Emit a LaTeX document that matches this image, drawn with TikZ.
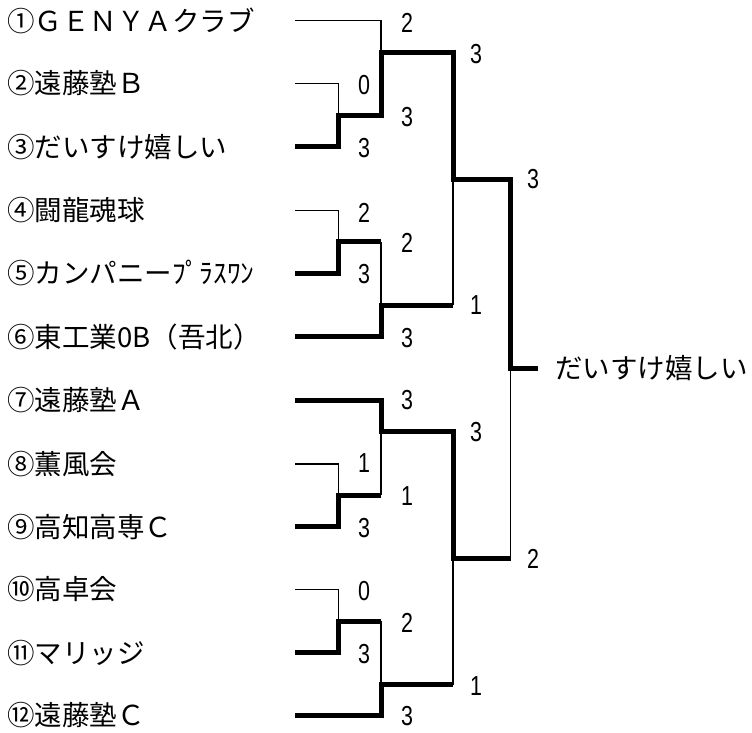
\documentclass[tikz,border=0pt]{standalone}
\usepackage{fontspec}
\setmainfont{Noto Sans CJK JP}
\newfontfamily\numfont[FakeStretch=0.78]{Liberation Sans}
\begin{document}
\begin{tikzpicture}[x=1pt,y=-1pt,
  thinln/.style={line width=1.3pt},
  thickln/.style={line width=5pt},
  team/.style={anchor=west,inner sep=0pt,font=\fontsize{27.5}{30}\selectfont},
  score/.style={anchor=west,inner sep=0pt,font=\numfont\fontsize{27.5}{30}\selectfont}]
\useasboundingbox (0,0) rectangle (752,733);
% team labels
\node[team] (n1) at (7,20.7) {①ＧＥＮＹＡクラブ};
\node[team] (n2) at (7,83.5) {②遠藤塾Ｂ};
\node[team] (n3) at (7,146.7) {③だいすけ嬉しい};
\node[team] (n4) at (7,210.5) {④闘龍魂球};
\node[team] (n5) at (7,273.3) {⑤カンパニーﾌﾟﾗｽﾜﾝ};
\node[team] (n6) at (7,336.7) {⑥東工業0B（吾北）};
\node[team] (n7) at (7,400) {⑦遠藤塾Ａ};
\node[team] (n8) at (7,464) {⑧薫風会};
\node[team] (n9) at (7,526.7) {⑨高知高専Ｃ};
\node[team] (n10) at (7,589.5) {⑩高卓会};
\node[team] (n11) at (7,652.7) {⑪マリッジ};
\node[team] (n12) at (7,715) {⑫遠藤塾Ｃ};
% line starts
\coordinate (t1) at (295,20.7);
\coordinate (t2) at (295,83.5);
\coordinate (t3) at (295,146.7);
\coordinate (t4) at (295,210.5);
\coordinate (t5) at (295,273.3);
\coordinate (t6) at (295,336.7);
\coordinate (t7) at (295,400);
\coordinate (t8) at (295,464);
\coordinate (t9) at (295,526.7);
\coordinate (t10) at (295,589.5);
\coordinate (t11) at (295,652.7);
\coordinate (t12) at (295,715);
% junctions
\coordinate (A) at (338.5,116);
\coordinate (B) at (381,52.5);
\coordinate (C) at (338.5,241.7);
\coordinate (D) at (381,305);
\coordinate (E) at (453,179.3);
\coordinate (F) at (338.5,495);
\coordinate (G) at (381,431);
\coordinate (H) at (338.5,621);
\coordinate (I) at (381,684.5);
\coordinate (J) at (453,558);
\coordinate (K) at (510.5,368);
\coordinate (W) at (538,368);
% thin lines
\draw[thinln] (t1) -| (B);
\draw[thinln] (t2) -| (A);
\draw[thinln] (t4) -| (C);
\draw[thinln] (C -| D) -- (D);
\draw[thinln] (E) -- (D -| E);
\draw[thinln] (t8) -| (F);
\draw[thinln] (G) -- (F -| G);
\draw[thinln] (t10) -| (H);
\draw[thinln] (H -| I) -- (I);
\draw[thinln] (J) -- (I -| J);
\draw[thinln] (K) -- (J -| K);
% thick (winner) lines
\draw[thickln] (t3) -| (A) -| (B) -| (E) -| (K) -- (W);
\draw[thickln] (t5) -| (C) -- (C -| D);
\draw[thickln] (t6) -| (D) -- (D -| E);
\draw[thickln] (t7) -| (G) -| (J) -- (J -| K);
\draw[thickln] (t9) -| (F) -- (F -| G);
\draw[thickln] (t11) -| (H) -- (H -| I);
\draw[thickln] (t12) -| (I) -- (I -| J);
% winner
\node[team] (win) at (555,368) {だいすけ嬉しい};
% scores
\node[score] (sA1) at (358,85) {0};
\node[score] (sA2) at (358,148.5) {3};
\node[score] (sB1) at (401,22.5) {2};
\node[score] (sB2) at (401,117) {3};
\node[score] (sC1) at (358,212.5) {2};
\node[score] (sC2) at (358,274.5) {3};
\node[score] (sD1) at (401,242.5) {2};
\node[score] (sD2) at (401,338.5) {3};
\node[score] (sE1) at (470,54) {3};
\node[score] (sE2) at (470,305.5) {1};
\node[score] (sF1) at (358,463.5) {1};
\node[score] (sF2) at (358,528) {3};
\node[score] (sG1) at (401,400) {3};
\node[score] (sG2) at (401,496) {1};
\node[score] (sH1) at (358,591) {0};
\node[score] (sH2) at (358,654) {3};
\node[score] (sI1) at (401,622.5) {2};
\node[score] (sI2) at (401,716.5) {3};
\node[score] (sJ1) at (470,432) {3};
\node[score] (sJ2) at (470,686) {1};
\node[score] (sK1) at (527,179.5) {3};
\node[score] (sK2) at (527,559) {2};
\end{tikzpicture}
\end{document}
